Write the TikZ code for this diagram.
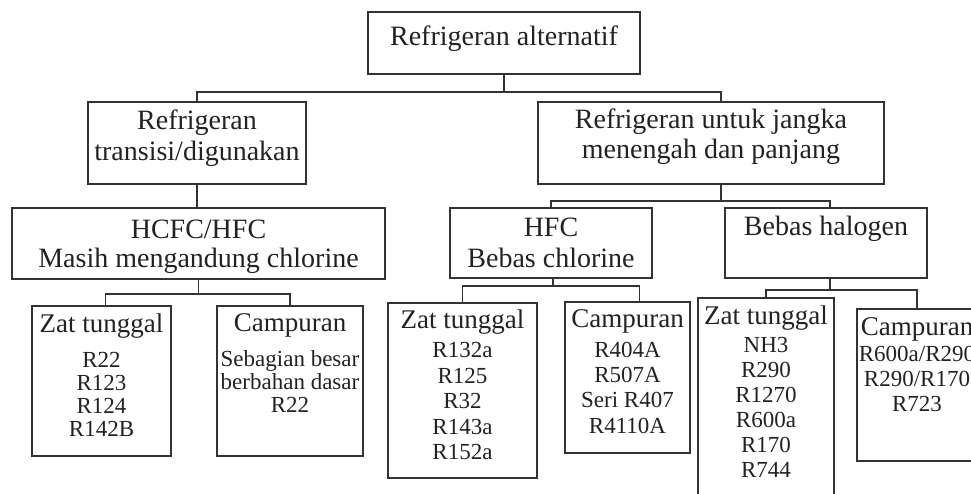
\documentclass[tikz,border=0pt]{standalone}
\usepackage{fontspec}
\setmainfont{Liberation Serif}
\usepackage{tikz}
\usetikzlibrary{calc}
\definecolor{tkLine}{HTML}{333333}
\definecolor{tkText}{HTML}{222222}
\newcommand{\headtxt}{\fontsize{27}{27}\selectfont}

\begin{document}
\begin{tikzpicture}[
  x=1pt,y=-1pt,
  cell/.style n args={3}{draw=tkLine,line width=1.7pt,inner sep=0pt,text=tkText,
    execute at begin node={\begin{minipage}[t][#2pt][t]{#1pt}\centering\vspace*{#3pt}},
    execute at end node={\end{minipage}}},
  upper/.style={font=\fontsize{28}{31}\selectfont},
  leaf/.style={font=\fontsize{23}{#1}\selectfont},
  link/.style={draw=tkLine,line width=1.7pt}
]
\fill[white] (0,0) rectangle (971,494);
\clip (0,0) rectangle (971,494);
% top levels
\node[cell={272}{62}{14},upper] (alt) at (504,43) {Refrigeran alternatif};
\node[cell={218}{82}{8},upper] (trans) at (197,143) {Refrigeran\\transisi/digunakan};
\node[cell={346}{82}{7},upper,font=\fontsize{28}{30}\selectfont] (jangka) at (711,143) {Refrigeran untuk jangka\\menengah dan panjang};
\node[cell={373}{71}{12},upper,font=\fontsize{28}{29}\selectfont] (hcfc) at (198.5,243.5) {HCFC/HFC\\Masih mengandung chlorine};
\node[cell={202}{70}{10},upper] (hfc) at (551,243) {HFC\\Bebas chlorine};
\node[cell={202}{70}{8},upper] (halogen) at (826,243) {Bebas halogen};
% leaves
\node[cell={139}{150}{8},leaf=23] (zat1) at (101.5,381) {{\headtxt Zat tunggal}\\[12pt]R22\\R123\\R124\\R142B};
\node[cell={146}{150}{8},leaf=23] (camp1) at (290,381) {{\headtxt Campuran}\\[12pt]Sebagian besar\\berbahan dasar\\R22};
\node[cell={149}{175}{7},leaf=25.5] (zat2) at (462.5,390.5) {{\headtxt Zat tunggal}\\[3.5pt]R132a\\R125\\R32\\R143a\\R152a};
\node[cell={125}{151}{8},leaf=25.3] (camp2) at (627.5,377.5) {{\headtxt Campuran}\\[4pt]R404A\\R507A\\Seri R407\\R4110A};
\node[cell={136}{207}{8},leaf=25] (zat3) at (766,401.5) {{\headtxt Zat tunggal}\\[3pt]NH3\\R290\\R1270\\R600a\\R170\\R744};
\node[cell={120}{152}{9},leaf=25] (camp3) at (917,385) {{\headtxt Campuran}\\[1pt]R600a/R290\\R290/R170\\R723};
% connectors
\draw[link] (alt.south) -- ++(0,17) -| (trans.north);
\draw[link] (alt.south) -- ++(0,17) -| ([xshift=10pt]jangka.north);
\draw[link] (trans.south) -- (trans.south |- hcfc.north);
\draw[link] ([xshift=10pt]jangka.south) -- ++(0,16) -| (hfc.north);
\draw[link] ([xshift=10pt]jangka.south) -- ++(0,16) -| ([xshift=4pt]halogen.north);
\draw[link] (hcfc.south) -- ++(0,14) -| ([xshift=4pt]zat1.north);
\draw[link] (hcfc.south) -- ++(0,14) -| (camp1.north);
\draw[link] ([xshift=2pt]hfc.south) -- ++(0,7) -| (zat2.north);
\draw[link] ([xshift=2pt]hfc.south) -- ++(0,7) -| ([xshift=12pt]camp2.north);
\draw[link] ([xshift=4pt]halogen.south) -- ++(0,11) -| (zat3.north);
\draw[link] ([xshift=4pt]halogen.south) -- ++(0,11) -| (camp3.north);
\end{tikzpicture}
\end{document}
